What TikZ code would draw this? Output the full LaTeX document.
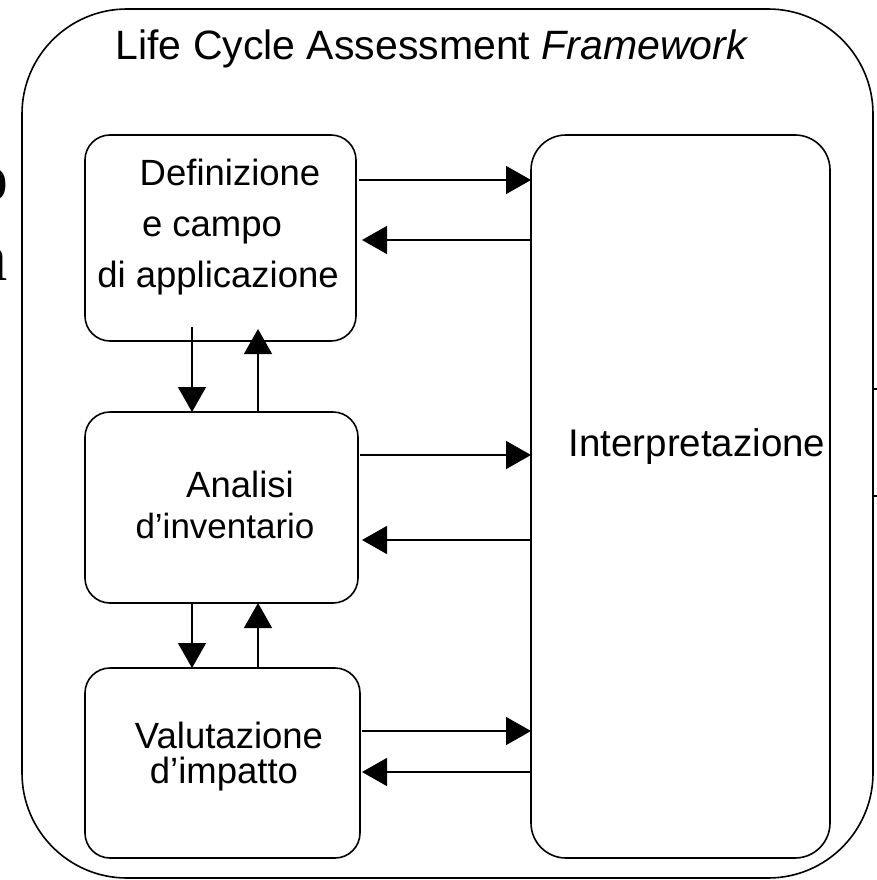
\documentclass[tikz,border=0pt]{standalone}
\usepackage{fontspec}
\setmainfont{Liberation Sans}
\newfontfamily\pagefont{Liberation Serif}
\usetikzlibrary{arrows.meta}

\begin{document}
\begin{tikzpicture}[x=1pt,y=-1pt,
  box/.style={draw,line width=1.6pt,rounded corners=25pt,inner sep=0pt,outer sep=0pt},
  flow/.style={line width=1.4pt,-{Triangle[width=28pt,length=25pt]}},
  lbl/.style={anchor=base,inner sep=0pt,font=\fontsize{36.5}{40}\selectfont},
  edgetext/.style={anchor=base east,inner sep=0pt,font=\pagefont\bfseries\fontsize{68}{70}\selectfont},
]
\useasboundingbox (0,0) rectangle (877,880);

% outer frame of the framework
\node[box,rounded corners=105pt,minimum width=851pt,minimum height=869pt] (frame) at (447.5,443.5) {};

% phase boxes
\node[box,minimum width=271pt,minimum height=206pt] (def) at (220.5,238) {};
\node[box,minimum width=273pt,minimum height=191pt] (inv) at (221.5,507.5) {};
\node[box,minimum width=275pt,minimum height=190pt] (imp) at (222.5,763) {};
\node[box,rounded corners=35pt,minimum width=299pt,minimum height=723pt] (interp) at (680.5,496.5) {};

% labels
\node[lbl,font=\fontsize{41}{44}\selectfont] (title) at (432,60) {Life Cycle Assessment \textit{Framework}};
\node[lbl] (def1) at (230,185) {Definizione};
\node[lbl] (def2) at (212,236) {e campo};
\node[lbl] (def3) at (218,287) {di applicazione};
\node[lbl] (inv1) at (240,497) {Analisi};
\node[lbl,font=\fontsize{35}{40}\selectfont] (inv2) at (225,538) {d’inventario};
\node[lbl] (imp1) at (229,748) {Valutazione};
\node[lbl] (imp2) at (224,783) {d’impatto};
\node[lbl,font=\fontsize{38.5}{42}\selectfont] (int1) at (697,456) {Interpretazione};

% exchanges with the interpretation phase
\draw[flow,shorten <=3pt] (def.east |- 0,180) -- (interp.west |- 0,180);
\draw[flow,shorten >=6pt] (interp.west |- 0,240) -- (def.east |- 0,240);
\draw[flow,shorten <=2pt] (inv.east |- 0,455) -- (interp.west |- 0,455);
\draw[flow,shorten >=4pt] (interp.west |- 0,540) -- (inv.east |- 0,540);
\draw[flow,shorten <=2pt] (imp.east |- 0,731) -- (interp.west |- 0,731);
\draw[flow,shorten >=2pt] (interp.west |- 0,772) -- (imp.east |- 0,772);

% exchanges between consecutive phases
\draw[flow,shorten <=-14pt] (def.south -| 192,0) -- (inv.north -| 192,0);
\draw[flow,shorten >=-12pt] (inv.north -| 258,0) -- (def.south -| 258,0);
\draw[flow] (inv.south -| 192,0) -- (imp.north -| 192,0);
\draw[flow] (imp.north -| 258,0) -- (inv.south -| 258,0);

% surrounding page content cut by the edges
\begin{scope}
  \clip (0,0) rectangle (877,880);
  \node[edgetext] (pg1) at (9,200) {o};
  \node[edgetext,font=\pagefont\fontsize{68}{70}\selectfont] (pg2) at (8,280) {a};
  \coordinate (r1) at (877,389);
  \coordinate (r2) at (877,496);
  \draw[line width=1.2pt] (frame.east |- r1) -- (r1);
  \draw[line width=1.2pt] (frame.east |- r2) -- (r2);
\end{scope}
\end{tikzpicture}
\end{document}
